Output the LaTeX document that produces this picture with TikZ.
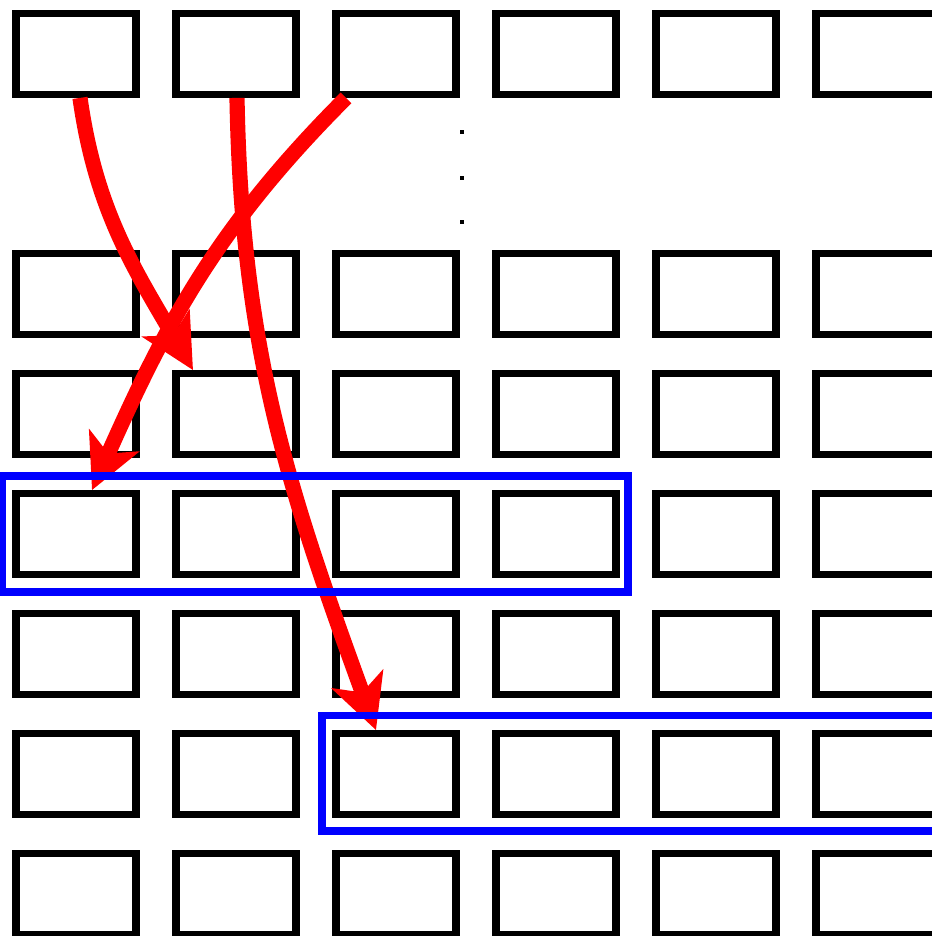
\documentclass[tikz,border=0pt]{standalone}
\usetikzlibrary{arrows.meta}

\tikzset{
  cell/.style={draw, line width=5pt, minimum width=3cm, minimum height=2.025cm, inner sep=0pt, outer sep=0pt},
  vdot/.style={rectangle, fill, inner sep=0pt, minimum size=0.1cm},
  jump/.style={red, line width=10.8pt, -{Stealth[length=1.35cm,width=1.35cm,inset=0.35cm]}},
  band/.style={blue, line width=5.3pt}
}

\begin{document}
\begin{tikzpicture}
\useasboundingbox (0,0) rectangle (23.3,-23.4);

% grid of cells, row 1 is left out (only dots there)
\foreach \j in {0,2,3,4,5,6,7}
  \foreach \k in {0,...,5}
    \node[cell] (b-\j-\k) at (1.9+4*\k,-1.355-3*\j) {};

% dots for the skipped rows
\node[vdot] (d1) at (11.55,-3.3) {};
\node[vdot] (d2) at (11.55,-4.45) {};
\node[vdot] (d3) at (11.55,-5.55) {};

% red jumps from the first row down
\draw[jump] ([xshift=0.1cm,yshift=-0.08cm]b-0-0.south) to[out=-82,in=120] ([xshift=0.425cm,yshift=0.09cm]b-3-1.north west);
\draw[jump] ([xshift=0.25cm,yshift=-0.08cm]b-0-2.south west) to[out=-135,in=66] ([xshift=0.4cm,yshift=0.09cm]b-4-0.north);
\draw[jump] ([xshift=0.025cm,yshift=-0.08cm]b-0-1.south) to[out=-89,in=110] ([xshift=-0.5cm,yshift=0.09cm]b-6-2.north);

% blue bands round the target rows
\draw[band] ([xshift=-0.35cm,yshift=0.44cm]b-4-0.north west) rectangle ([xshift=0.3cm,yshift=-0.43cm]b-4-3.south east);
\draw[band] ([xshift=-0.35cm,yshift=0.45cm]b-6-2.north west) rectangle ([xshift=0.3cm,yshift=-0.41cm]b-6-5.south east);
\end{tikzpicture}
\end{document}
